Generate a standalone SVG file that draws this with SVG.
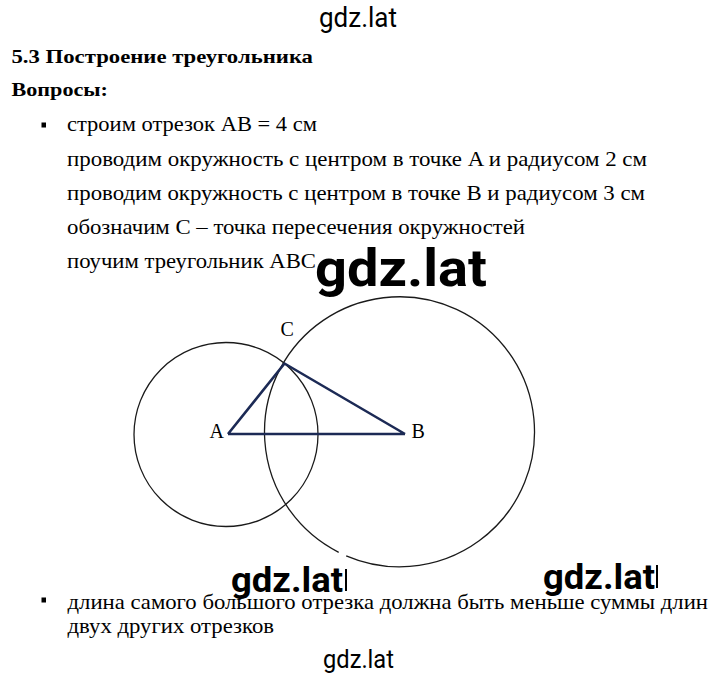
<svg xmlns="http://www.w3.org/2000/svg" width="720" height="677" viewBox="0 0 720 677">
<style>
.t{font-family:"Liberation Serif","Times New Roman",serif;font-size:21px;fill:#000}
.h{font-family:"Liberation Serif","Times New Roman",serif;font-size:19px;font-weight:bold;fill:#000}
.lab{font-family:"Liberation Serif","Times New Roman",serif;font-size:20px;fill:#000}
.wm{font-family:Roboto,"Liberation Sans",sans-serif;fill:#000}
.circ{fill:none;stroke:#1a1a1a;stroke-width:1.3}
.edge{fill:none;stroke:#1c2a55;stroke-width:2.6;stroke-linejoin:round}
.bul{fill:#000}
</style>
<rect width="720" height="677" fill="#fff"/>
<text class="wm" x="319" y="26.5" font-size="27" textLength="78" lengthAdjust="spacingAndGlyphs">gdz.lat</text>
<text class="h" x="11.5" y="63" textLength="301.5" lengthAdjust="spacingAndGlyphs">5.3 Построение треугольника</text>
<text class="h" x="11.5" y="96" textLength="96.5" lengthAdjust="spacingAndGlyphs">Вопросы:</text>
<rect class="bul" x="41.5" y="122.5" width="4.5" height="5"/>
<text class="t" x="67" y="130.5" textLength="250" lengthAdjust="spacingAndGlyphs">строим отрезок AB = 4 см</text>
<text class="t" x="67" y="165.5" textLength="580" lengthAdjust="spacingAndGlyphs">проводим окружность с центром в точке A и радиусом 2 см</text>
<text class="t" x="67" y="199.5" textLength="578" lengthAdjust="spacingAndGlyphs">проводим окружность с центром в точке B и радиусом 3 см</text>
<text class="t" x="67" y="233.5" textLength="458" lengthAdjust="spacingAndGlyphs">обозначим C – точка пересечения окружностей</text>
<text class="t" x="67" y="268" textLength="249" lengthAdjust="spacingAndGlyphs">поучим треугольник ABC</text>
<g id="circleA"><circle class="circ" cx="226" cy="434.5" r="92"/></g>
<g id="circleB"><path class="circ" d="M 346.2 555.8 A 135 135 0 1 0 338.7 552.3"/></g>
<g id="connectors">
<path class="edge" d="M 228 434 L 405 434 M 228 434 L 284.5 363.5 L 405 434"/>
</g>
<g id="pointA"><text class="lab" x="209.5" y="438">A</text></g>
<g id="pointB"><text class="lab" x="411.5" y="438">B</text></g>
<g id="pointC"><text class="lab" x="280.5" y="336">C</text></g>
<text class="wm" x="315" y="286" font-size="52" font-weight="bold" textLength="172" lengthAdjust="spacingAndGlyphs">gdz.lat</text>
<rect class="bul" x="41.5" y="597.5" width="4.5" height="5"/>
<text class="t" x="67.5" y="609" textLength="640.5" lengthAdjust="spacingAndGlyphs">длина самого большого отрезка должна быть меньше суммы длин</text>
<text class="t" x="67.5" y="633" textLength="206.5" lengthAdjust="spacingAndGlyphs">двух других отрезков</text>
<text class="wm" x="231" y="592" font-size="35" font-weight="bold" textLength="112" lengthAdjust="spacingAndGlyphs">gdz.lat</text>
<rect x="345" y="569" width="2" height="22" fill="#000"/>
<text class="wm" x="543" y="589" font-size="35" font-weight="bold" textLength="112" lengthAdjust="spacingAndGlyphs">gdz.lat</text>
<rect x="656" y="565" width="2" height="23" fill="#000"/>
<text class="wm" x="323" y="668" font-size="26" textLength="71" lengthAdjust="spacingAndGlyphs">gdz.lat</text>
</svg>
